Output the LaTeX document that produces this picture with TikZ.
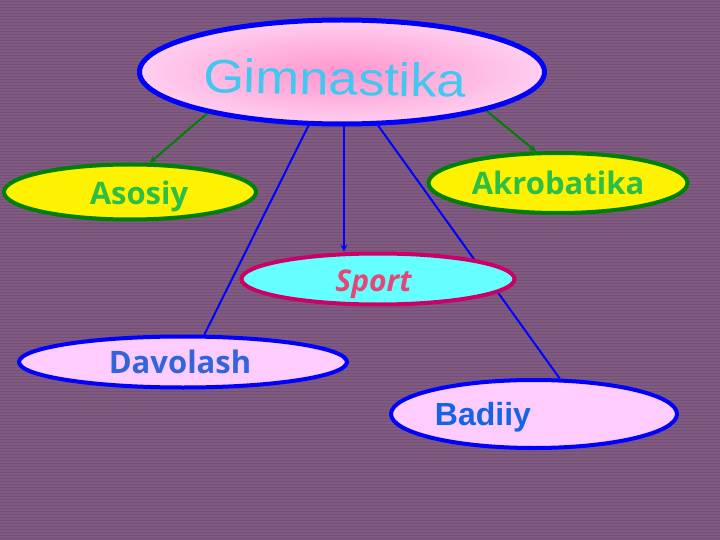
\documentclass[tikz,border=0pt]{standalone}
\usepackage{fontspec}
\usepackage{tikz}
\setmainfont{Liberation Sans}
\newfontfamily\opensans{Open Sans}
\usetikzlibrary{arrows}
\usetikzlibrary{shapes.geometric}
\usetikzlibrary{backgrounds}

\definecolor{bgpurple}{RGB}{128,90,129}
\definecolor{bgline}{RGB}{115,80,117}
\definecolor{gimouter}{RGB}{255,206,240}
\definecolor{giminner}{RGB}{255,150,205}
\definecolor{gimtext}{RGB}{64,200,240}
\definecolor{leafgreen}{RGB}{0,128,0}
\definecolor{leaftext}{RGB}{45,190,70}
\definecolor{sportfill}{RGB}{102,255,255}
\definecolor{sportedge}{RGB}{204,0,102}
\definecolor{sporttext}{RGB}{230,70,120}
\definecolor{lightpink}{RGB}{255,204,255}
\definecolor{davtext}{RGB}{50,100,220}
\definecolor{badtext}{RGB}{20,100,230}

% lower a label without changing its box
\newcommand{\lowerby}[2]{\raisebox{-#1}[\height][\depth]{#2}}

\tikzset{
  oval/.style={ellipse, inner sep=0pt, line width=4pt},
  yellowoval/.style={oval, draw=leafgreen, fill=yellow, text=leaftext,
    font=\opensans\bfseries\fontsize{31}{31}\selectfont},
  pinkoval/.style={oval, draw=blue, fill=lightpink,
    font=\opensans\bfseries\fontsize{31}{31}\selectfont},
  greenlink/.style={draw=leafgreen, line width=2pt, -stealth},
  bluelink/.style={draw=blue, line width=2pt},
}

\begin{document}
\begin{tikzpicture}[x=1pt,y=-1pt]
      \useasboundingbox (0,0) rectangle (720,540);

      \node[oval, draw=blue, line width=5pt, inner color=giminner, outer color=gimouter,
        minimum width=405pt, minimum height=104pt, text=gimtext,
        font=\fontsize{47}{47}\selectfont] (gim) at (342,72)
        {\lowerby{6pt}{\rotatebox{-1.2}{\scalebox{1.12}[1]{Gimnastika}}}\hspace*{14pt}};

      \node[yellowoval, minimum width=252pt, minimum height=55pt] (aso) at (130,192)
        {\hspace*{18pt}\lowerby{4pt}{Asosiy}};
      \node[yellowoval, minimum width=259pt, minimum height=60pt] (akr) at (558,183)
        {Akrobatika};
      \node[oval, draw=sportedge, fill=sportfill, text=sporttext,
        minimum width=273pt, minimum height=51pt,
        font=\opensans\bfseries\itshape\fontsize{30}{30}\selectfont] (spo) at (378,279)
        {\lowerby{5pt}{Sport}\hspace*{9pt}};
      \node[pinkoval, text=davtext, minimum width=328pt, minimum height=51pt] (dav) at (183,362)
        {Davolash\hspace*{6pt}};
      \node[pinkoval, text=badtext, minimum width=286pt, minimum height=68pt,
        font=\bfseries\fontsize{32}{32}\selectfont] (bad) at (534,414)
        {\lowerby{3pt}{Badiiy}\hspace*{102pt}};

      \begin{scope}[on background layer]
        \fill[bgpurple] (0,0) rectangle (720,540);
        \foreach \y in {1,4,...,540}
          \draw[bgline, line width=0.8pt] (0,\y) -- (720,\y);

        \draw[greenlink] (gim.197) -- (aso.56);
        \draw[greenlink] (gim.-15) -- (akr.125);
        \draw[bluelink, -stealth] (gim.-88) -- (gim.-88 |- spo.north);
        \draw[bluelink] (gim.238) -- (dav.52);
        \draw[bluelink] (gim.-56) -- (bad.54);
      \end{scope}
\end{tikzpicture}
\end{document}
